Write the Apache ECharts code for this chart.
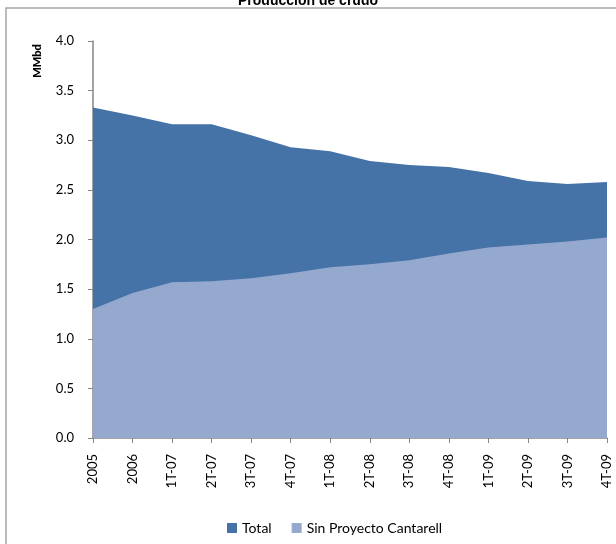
<!DOCTYPE html>
<html>
<head>
<meta charset="utf-8">
<script src="https://cdn.jsdelivr.net/npm/echarts@6/dist/echarts.min.js"></script>
<style>html,body{margin:0;padding:0;background:#fff}#c{width:616px;height:544px}</style>
</head>
<body>
<div id="c"></div>
<script>
const categories = ['2005','2006','1T-07','2T-07','3T-07','4T-07','1T-08','2T-08','3T-08','4T-08','1T-09','2T-09','3T-09','4T-09'];
const totalValues = [3.33,3.25,3.16,3.16,3.05,2.93,2.89,2.79,2.75,2.73,2.67,2.59,2.56,2.58];
const sinCantarellValues = [1.30,1.46,1.57,1.58,1.61,1.66,1.72,1.75,1.79,1.86,1.92,1.95,1.98,2.02];

const chart = echarts.init(document.getElementById('c'), null, {renderer:'canvas'});
const font = 'Lato, "Open Sans", sans-serif';
chart.setOption({
  animation:false,
  backgroundColor:'#fff',
  graphic:[
    {type:'rect',shape:{x:6,y:8,width:640,height:600},style:{fill:'none',stroke:'#a6a6a6',lineWidth:1.5},z:-1},
    {type:'text',x:37,y:61,rotation:Math.PI/2,style:{text:'MMbd',font:'900 11px Lato, "Liberation Sans", sans-serif',fill:'#000',align:'center',verticalAlign:'middle'}}
  ],
  title:{text:'Producción de crudo',left:'center',top:-11,textStyle:{fontFamily:'"Liberation Sans", Arial, sans-serif',fontWeight:'bold',fontSize:14,color:'#000'}},
  legend:{top:516,left:222,itemWidth:10,itemHeight:10,itemGap:20,icon:'rect',textStyle:{fontFamily:font,fontSize:14,color:'#000'},data:['Total','Sin Proyecto Cantarell']},
  grid:{left:93,right:9,top:41,bottom:106},
  xAxis:{type:'category',data:categories,boundaryGap:false,
    axisLine:{lineStyle:{color:'#868686',width:1.5}},
    axisTick:{show:true,length:5,lineStyle:{color:'#868686'}},
    axisLabel:{rotate:90,fontFamily:font,fontSize:13,color:'#000',margin:16,interval:0}},
  yAxis:{type:'value',min:0,max:4,interval:0.5,
    axisLine:{show:true,lineStyle:{color:'#868686',width:1.5}},
    axisTick:{show:true,length:5,lineStyle:{color:'#868686'}},
    splitLine:{show:false},
    axisLabel:{fontFamily:font,fontSize:13,color:'#000',margin:19,formatter:v=>v.toFixed(1)}},
  series:[
    {name:'Total',type:'line',data:totalValues,symbol:'none',lineStyle:{width:0},areaStyle:{color:'#4572a7',opacity:1},itemStyle:{color:'#4572a7'},z:2},
    {name:'Sin Proyecto Cantarell',type:'line',data:sinCantarellValues,symbol:'none',lineStyle:{width:0},areaStyle:{color:'#95a9cf',opacity:1},itemStyle:{color:'#95a9cf'},z:3}
  ]
});
</script>
</body>
</html>
